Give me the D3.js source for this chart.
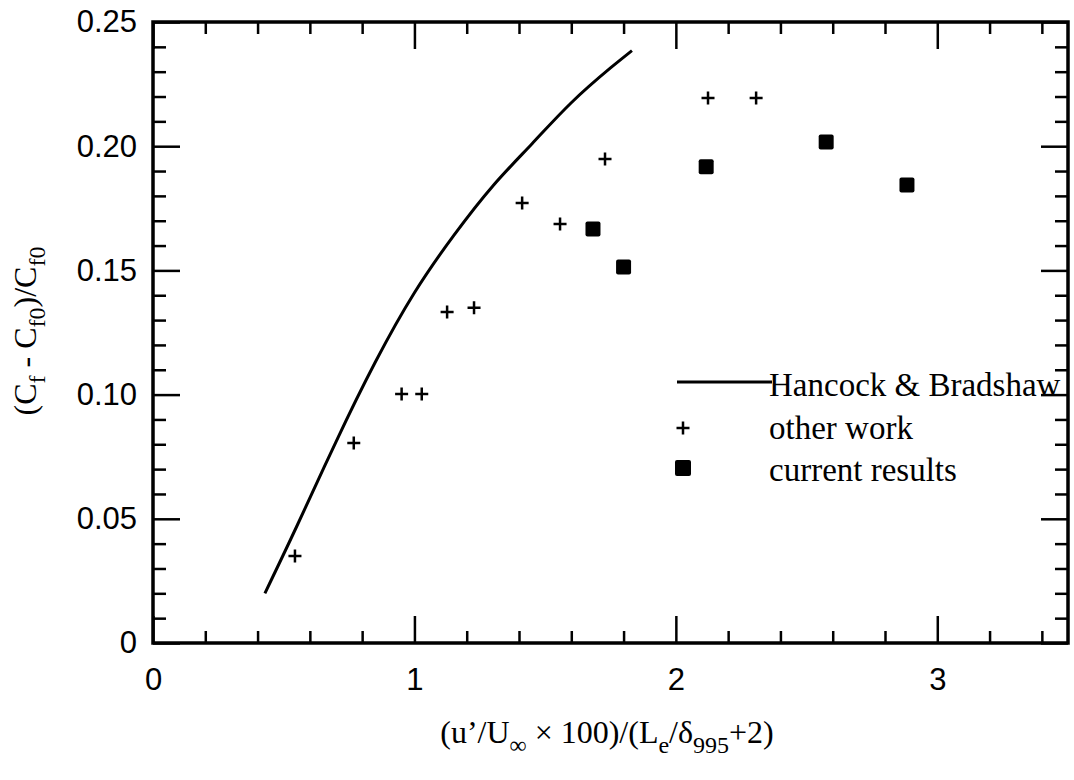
<!DOCTYPE html>
<html>
<head>
<meta charset="utf-8">
<script src="https://cdn.jsdelivr.net/npm/d3@7"></script>
<style>
  html, body { margin: 0; padding: 0; background: #fff; }
  svg { display: block; }
</style>
</head>
<body>
<svg id="chart" width="1074" height="780"></svg>
<script>
// Hancock & Bradshaw correlation curve
const hbX = [0.428, 0.55, 0.70, 0.85, 1.00, 1.15, 1.30, 1.45, 1.60, 1.75, 1.832];
const hbY = [0.020, 0.047, 0.081, 0.113, 0.141, 0.164, 0.184, 0.201, 0.2175, 0.2315, 0.2385];

// Other work (plus markers)
const otherX = [0.543, 0.768, 0.951, 1.028, 1.125, 1.228, 1.412, 1.557, 1.729, 2.123, 2.307];
const otherY = [0.035, 0.0805, 0.1002, 0.1002, 0.1333, 0.1350, 0.1771, 0.1687, 0.1948, 0.2194, 0.2194];

// Current results (filled squares)
const curX = [1.683, 1.800, 2.116, 2.575, 2.884];
const curY = [0.1667, 0.1514, 0.1917, 0.2017, 0.1844];

// Axis ticks
const xMajor = [0, 1, 2, 3];
const xMinor = [0.2, 0.4, 0.6, 0.8, 1.2, 1.4, 1.6, 1.8, 2.2, 2.4, 2.6, 2.8, 3.2, 3.4];
const yMajor = [0, 0.05, 0.10, 0.15, 0.20, 0.25];
const yMinor = [0.01, 0.02, 0.03, 0.04, 0.06, 0.07, 0.08, 0.09, 0.11, 0.12, 0.13, 0.14,
                0.16, 0.17, 0.18, 0.19, 0.21, 0.22, 0.23, 0.24];
const xTickLabels = ["0", "1", "2", "3"];
const yTickLabels = ["0", "0.05", "0.10", "0.15", "0.20", "0.25"];

const legendLabels = ["Hancock & Bradshaw", "other work", "current results"];

const svg = d3.select("#chart");
const plotLeft = 153, plotRight = 1068, plotTop = 22, plotBottom = 643;

const x = d3.scaleLinear().domain([0, 3.5]).range([plotLeft, plotRight]);
const y = d3.scaleLinear().domain([0, 0.25]).range([plotBottom, plotTop]);

const sans = "'Liberation Sans', Arial, Helvetica, sans-serif";
const serif = "'Liberation Serif', 'Times New Roman', Times, serif";

// Frame ticks (all pointing inward)
function tickAxis(axis, vals, size, offset) {
  const g = svg.append("g").attr("transform", offset).call(axis.tickValues(vals).tickSize(size).tickFormat(""));
  g.select(".domain").remove();
  g.selectAll(".tick line").attr("stroke", "#000").attr("stroke-width", 2.5);
  return g;
}
tickAxis(d3.axisTop(x), xMajor, 27, `translate(0,${plotBottom})`);
tickAxis(d3.axisTop(x), xMinor, 12, `translate(0,${plotBottom})`);
tickAxis(d3.axisBottom(x), xMajor, 27, `translate(0,${plotTop})`);
tickAxis(d3.axisBottom(x), xMinor, 12, `translate(0,${plotTop})`);
tickAxis(d3.axisRight(y), yMajor, 27, `translate(${plotLeft},0)`);
tickAxis(d3.axisRight(y), yMinor, 13, `translate(${plotLeft},0)`);
tickAxis(d3.axisLeft(y), yMajor, 27, `translate(${plotRight},0)`);
tickAxis(d3.axisLeft(y), yMinor, 13, `translate(${plotRight},0)`);

// Frame
svg.append("rect")
  .attr("x", plotLeft).attr("y", plotTop)
  .attr("width", plotRight - plotLeft).attr("height", plotBottom - plotTop)
  .attr("fill", "none").attr("stroke", "#000").attr("stroke-width", 3.5);

// Tick labels
const xl = d3.axisBottom(x).tickValues(xMajor).tickSize(0).tickPadding(0)
  .tickFormat((d, i) => xTickLabels[i]);
const gx = svg.append("g").attr("transform", `translate(0,${plotBottom})`).call(xl);
gx.select(".domain").remove();
gx.selectAll("text").attr("dy", null).attr("y", 47)
  .attr("font-family", sans).attr("font-size", 31).attr("fill", "#000");

const yl = d3.axisLeft(y).tickValues(yMajor).tickSize(0).tickPadding(16)
  .tickFormat((d, i) => yTickLabels[i]);
const gy = svg.append("g").attr("transform", `translate(${plotLeft},0)`).call(yl);
gy.select(".domain").remove();
gy.selectAll("text").attr("font-family", sans).attr("font-size", 31).attr("fill", "#000");

// Hancock & Bradshaw curve
const hb = hbX.map((v, i) => [v, hbY[i]]);
svg.append("path")
  .datum(hb)
  .attr("d", d3.line().x(d => x(d[0])).y(d => y(d[1])).curve(d3.curveNatural))
  .attr("fill", "none").attr("stroke", "#000").attr("stroke-width", 3);

// Other work markers
const plus = "M-6.5,0H6.5M0,-6.5V6.5";
svg.append("g").selectAll("path")
  .data(otherX.map((v, i) => [v, otherY[i]]))
  .join("path")
  .attr("transform", d => `translate(${x(d[0])},${y(d[1])})`)
  .attr("d", plus).attr("stroke", "#000").attr("stroke-width", 2.5).attr("fill", "none");

// Current results markers
const sq = 15;
svg.append("g").selectAll("rect")
  .data(curX.map((v, i) => [v, curY[i]]))
  .join("rect")
  .attr("x", d => x(d[0]) - sq / 2).attr("y", d => y(d[1]) - sq / 2)
  .attr("width", sq).attr("height", sq).attr("rx", 2)
  .attr("fill", "#000");

// Legend
const lg = svg.append("g").attr("font-family", serif).attr("font-size", 33).attr("fill", "#000");
lg.append("line").attr("x1", 677).attr("x2", 772).attr("y1", 382).attr("y2", 382)
  .attr("stroke", "#000").attr("stroke-width", 3);
lg.append("path").attr("transform", "translate(683,428)").attr("d", plus)
  .attr("stroke", "#000").attr("stroke-width", 2.5);
lg.append("rect").attr("x", 675).attr("y", 460).attr("width", 16).attr("height", 16).attr("rx", 2)
  .attr("fill", "#000");
lg.selectAll("text").data(legendLabels).join("text")
  .attr("x", 769).attr("y", (d, i) => 396 + i * 42.5)
  .text(d => d);

// Axis titles
const xt = svg.append("text").attr("x", 607).attr("y", 743)
  .attr("text-anchor", "middle").attr("font-family", serif).attr("font-size", 32).attr("fill", "#000");
xt.append("tspan").text("(u\u2019/U");
xt.append("tspan").attr("dy", 10).attr("font-size", 24).text("\u221E");
xt.append("tspan").attr("dy", -10).text(" \u00D7 100)/(L");
xt.append("tspan").attr("dy", 10).attr("font-size", 24).text("e");
xt.append("tspan").attr("dy", -10).text("/\u03B4");
xt.append("tspan").attr("dy", 10).attr("font-size", 24).text("995");
xt.append("tspan").attr("dy", -10).text("+2)");

const yt = svg.append("text").attr("transform", "translate(36,331) rotate(-90)")
  .attr("text-anchor", "middle").attr("font-family", serif).attr("font-size", 32).attr("fill", "#000");
yt.append("tspan").text("(C");
yt.append("tspan").attr("dy", 9).attr("font-size", 24).text("f");
yt.append("tspan").attr("dy", -9).text(" - C");
yt.append("tspan").attr("dy", 9).attr("font-size", 24).text("f0");
yt.append("tspan").attr("dy", -9).text(")/C");
yt.append("tspan").attr("dy", 9).attr("font-size", 24).text("f0");
</script>
</body>
</html>
